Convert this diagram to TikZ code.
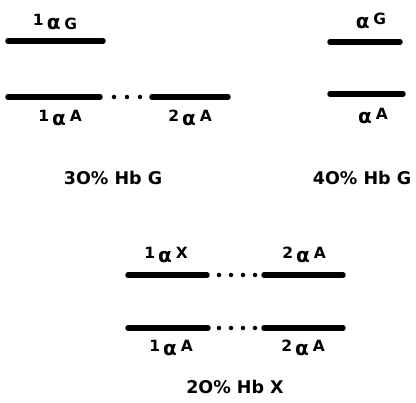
\documentclass[tikz,border=0pt]{standalone}
\usepackage{fontspec}
\setmainfont{DejaVu Sans}
\newcommand\mypre[1]{\raisebox{0.3em}{#1}\hspace{0.2em}}
\newcommand\mysup[1]{\hspace{0.25em}\raisebox{0.3em}{#1}}
\newcommand\alf{{\fontsize{20}{20}\selectfont α}}
\begin{document}
\begin{tikzpicture}[x=1pt,y=-1pt,
  gene/.style={line width=5.5pt,line cap=round},
  gap/.style={line width=4.5pt,line cap=round,dash pattern=on 0pt off 13pt},
  gapb/.style={line width=4.5pt,line cap=round,dash pattern=on 0pt off 12pt},
  lab/.style={font=\bfseries\fontsize{15.5}{15.5}\selectfont,inner sep=0pt},
  caption/.style={font=\bfseries\fontsize{17.5}{17.5}\selectfont,inner sep=0pt}]
\useasboundingbox (0,0) rectangle (416,403);
% top left
\coordinate (g1a) at (8,41); \coordinate (g1b) at (103,41);
\draw[gene] (g1a) -- (g1b);
\node[lab] (lg1) at (55,22) {\mypre{1}\alf\hspace{0.25em}G};
\coordinate (a1a) at (8,97); \coordinate (a1b) at (100,97);
\coordinate (a2a) at (152,97); \coordinate (a2b) at (228,97);
\draw[gene] (a1a) -- (a1b);
\draw[gene] (a2a) -- (a2b);
\draw[gap] (114,97) -- (141,97);
\node[lab] (la1) at (60,118) {\mypre{1}\alf\mysup{A}};
\node[lab] (la2) at (190,118) {\mypre{2}\alf\mysup{A}};
\node[caption] (c1) at (113,178) {3O\% Hb G};
% top right
\coordinate (rg1) at (330,42); \coordinate (rg2) at (400,42);
\draw[gene] (rg1) -- (rg2);
\node[lab] (lrg) at (371,21) {\alf\mysup{G}};
\coordinate (ra1) at (330,94); \coordinate (ra2) at (403,94);
\draw[gene] (ra1) -- (ra2);
\node[lab] (lra) at (373,116) {\alf\mysup{A}};
\node[caption] (c2) at (362,178) {4O\% Hb G};
% bottom
\coordinate (x1a) at (128,275); \coordinate (x1b) at (207,275);
\coordinate (x2a) at (264,275); \coordinate (x2b) at (343,275);
\draw[gene] (x1a) -- (x1b);
\draw[gene] (x2a) -- (x2b);
\draw[gapb] (219,275) -- (256,275);
\node[lab] (lx1) at (166,255) {\mypre{1}\alf\mysup{X}};
\node[lab] (lx2) at (304,255) {\mypre{2}\alf\mysup{A}};
\coordinate (b1a) at (128,328); \coordinate (b1b) at (208,328);
\coordinate (b2a) at (264,328); \coordinate (b2b) at (343,328);
\draw[gene] (b1a) -- (b1b);
\draw[gene] (b2a) -- (b2b);
\draw[gapb] (219,328) -- (256,328);
\node[lab] (lb1) at (171,348) {\mypre{1}\alf\mysup{A}};
\node[lab] (lb2) at (303,348) {\mypre{2}\alf\mysup{A}};
\node[caption] (c3) at (235,387) {2O\% Hb X};
\end{tikzpicture}
\end{document}
